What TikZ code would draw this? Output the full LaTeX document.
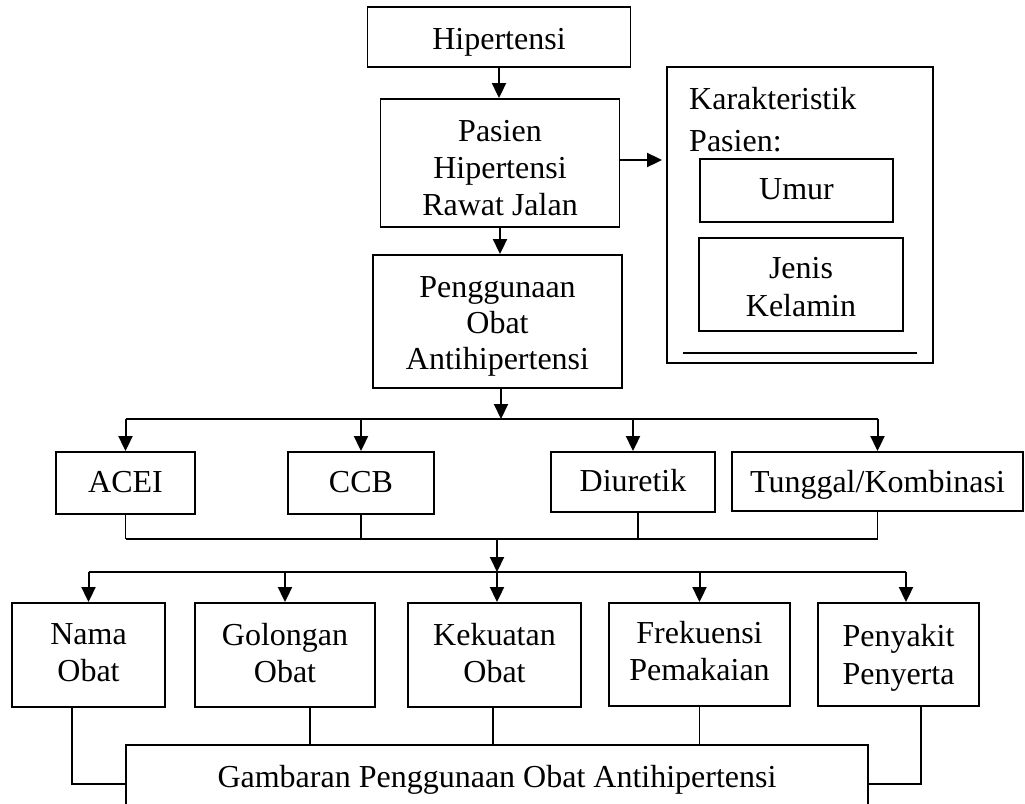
\documentclass[tikz,border=0pt]{standalone}
\usepackage{fontspec}
\setmainfont{Liberation Serif}
\usetikzlibrary{arrows.meta,calc}
\begin{document}
\begin{tikzpicture}[x=1pt,y=-1pt,
  txt/.style={inner sep=0pt,align=center,font=\fontsize{32}{37}\selectfont},
  box/.style={draw,line width=1.9pt,inner sep=0pt},
  arr/.style={line width=2pt,-{Triangle[length=15pt,width=14pt]}},
  ln/.style={line width=1.5pt},
  lnk/.style={line width=2pt}]
\useasboundingbox (0,0) rectangle (1025,803);
% top column
\node[box,minimum width=263pt,minimum height=60pt,label={[txt,yshift=-5pt]center:Hipertensi}] (hip) at (499,37) {};
\node[box,minimum width=239pt,minimum height=128pt,label={[txt,yshift=-5.5pt]center:{Pasien\\Hipertensi\\Rawat Jalan}}] (pas) at (500,163) {};
\node[box,minimum width=249pt,minimum height=133pt,label={[txt,font=\fontsize{32}{36}\selectfont,yshift=-4.5pt]center:{Penggunaan\\Obat\\Antihipertensi}}] (pen) at (497.5,321.5) {};
\draw[arr] (hip.south) -- (hip.south |- pas.north);
\draw[arr] (pas.south) -- (pas.south |- pen.north);
% right box
\node[box,minimum width=266pt,minimum height=296pt] (kar) at (800,215) {};
\node[txt,anchor=base west] (karT) at (689,109) {Karakteristik};
\node[txt,anchor=base west] (pasT) at (689,151) {Pasien:};
\node[box,line width=1.5pt,minimum width=193pt,minimum height=63pt,label={[txt,yshift=1.5pt]center:Umur}] (umur) at (796.5,190.5) {};
\node[box,line width=1.5pt,minimum width=204pt,minimum height=93pt,label={[txt,font=\fontsize{32}{38}\selectfont,yshift=-3pt]center:{Jenis\\Kelamin}}] (jenis) at (801,284.5) {};
\draw[lnk] ($(kar.south west)+(17,-11)$) -- ($(kar.south east)+(-17,-11)$);
\draw[arr,shorten >=4pt] ([yshift=3pt]pas.east) -- ([yshift=3pt]pas.east -| kar.west);
% first row
\node[box,minimum width=139pt,minimum height=62pt,label={[txt,yshift=1pt]center:ACEI}] (acei) at (125.5,483) {};
\node[box,minimum width=146pt,minimum height=62pt,label={[txt,yshift=1pt]center:CCB}] (ccb) at (361,483) {};
\node[box,minimum width=164pt,minimum height=60pt,label={[txt,yshift=1pt]center:Diuretik}] (diur) at (633,482) {};
\node[box,minimum width=291pt,minimum height=59pt,label={[txt,yshift=-3pt]center:Tunggal/Kombinasi}] (tung) at (877.5,481.5) {};
\coordinate (b1) at (501,419);
\draw[arr] (b1 |- pen.south) -- (b1);
\draw[lnk] (b1 -| acei.north) -- (b1 -| tung.north);
\foreach \n in {acei,ccb,diur,tung} \draw[arr] (b1 -| \n.north) -- (\n.north);
\coordinate (b2) at (497,539);
\coordinate (ds) at ([xshift=5pt]diur.south);
\foreach \n in {acei.south,ccb.south,ds,tung.south} \draw[ln] (\n) -- (\n |- b2);
\draw[ln] (b2 -| acei.south) -- (b2 -| tung.south);
\coordinate (b3) at (497,572);
\draw[arr] (b2) -- (b3);
% second row
\node[box,minimum width=153pt,minimum height=104pt,label={[txt,yshift=2.5pt]center:{Nama\\Obat}}] (nama) at (88.5,655) {};
\node[box,minimum width=180pt,minimum height=104pt,label={[txt,yshift=1.5pt]center:{Golongan\\Obat}}] (gol) at (285,655) {};
\node[box,minimum width=173pt,minimum height=104pt,label={[txt,yshift=2pt]center:{Kekuatan\\Obat}}] (kek) at (494.5,655) {};
\node[box,minimum width=181pt,minimum height=103pt,label={[txt,yshift=3pt]center:{Frekuensi\\Pemakaian}}] (frek) at (699.5,654.5) {};
\node[box,minimum width=161pt,minimum height=103pt,label={[txt,font=\fontsize{32}{38}\selectfont,yshift=-3.5pt]center:{Penyakit\\Penyerta}}] (peny) at (898.5,654.5) {};
\coordinate (pa) at ([xshift=7.5pt]peny.north);
\draw[lnk] (b3 -| nama.north) -- (b3 -| pa);
\foreach \n in {nama.north,gol.north,frek.north,pa} \draw[arr] (b3 -| \n) -- (\n);
\draw[arr] (b3) -- (b3 |- kek.north);
% bottom box
\begin{scope}
\clip (0,0) rectangle (1025,803);
\node[box,minimum width=742pt,minimum height=64pt,label={[txt,yshift=-3pt]center:Gambaran Penggunaan Obat Antihipertensi}] (gam) at (497,777) {};
\end{scope}
\coordinate (ns) at ([xshift=-16.5pt]nama.south);
\draw[ln] (ns) |- ([yshift=-7pt]gam.west);
\coordinate (gs) at ([xshift=25pt]gol.south);
\draw[ln] (gs) -- (gs |- gam.north);
\coordinate (ks) at ([xshift=-1.5pt]kek.south);
\draw[ln] (ks) -- (ks |- gam.north);
\draw[ln] (frek.south) -- (frek.south |- gam.north);
\coordinate (ps) at ([xshift=22.5pt]peny.south);
\draw[ln] (ps) |- ([yshift=-7pt]gam.east);
\end{tikzpicture}
\end{document}
